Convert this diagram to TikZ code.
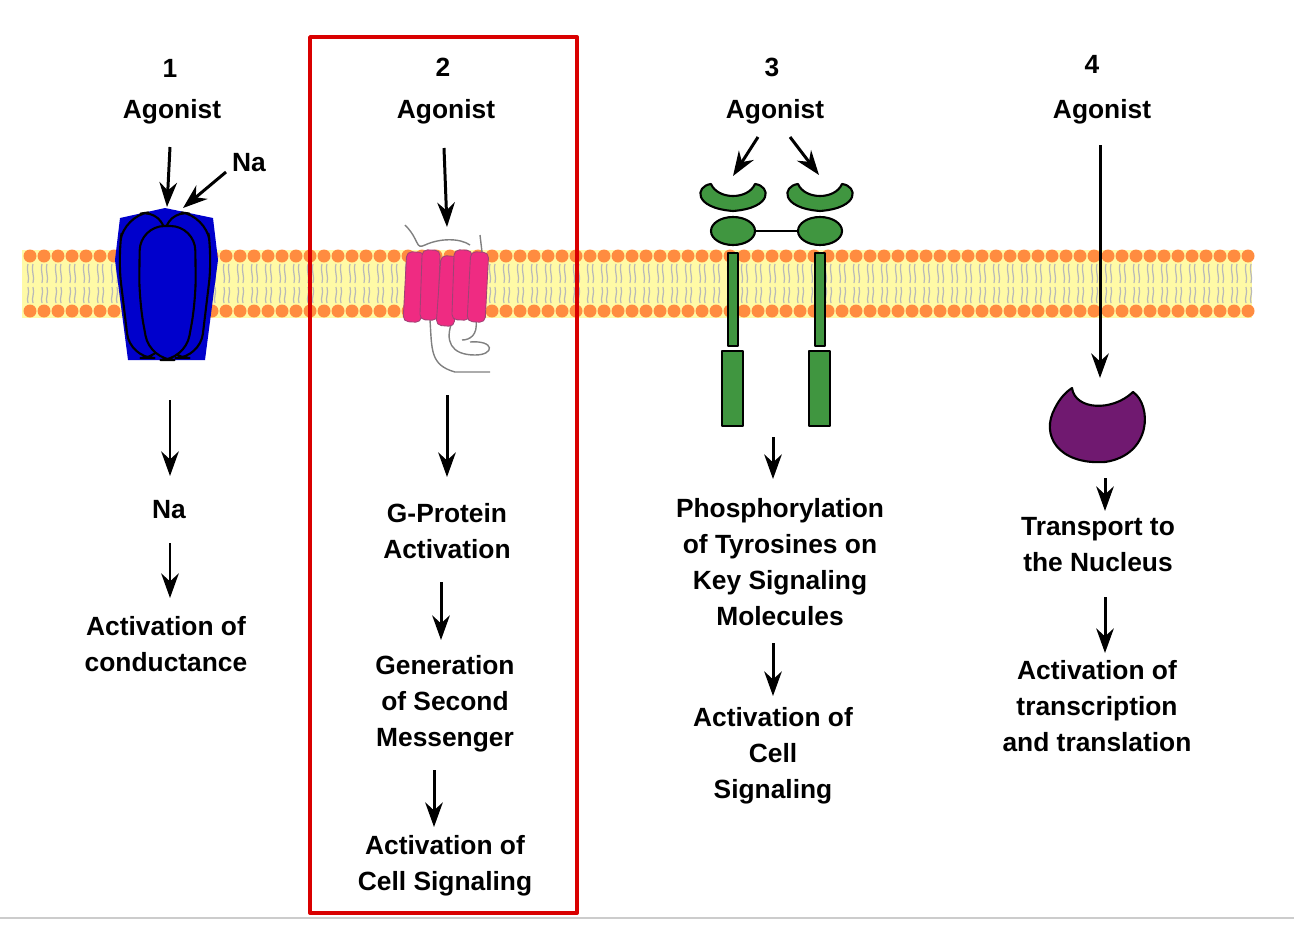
\documentclass[tikz,border=0pt]{standalone}
\usepackage{fontspec}
\setmainfont{Liberation Sans}
\usetikzlibrary{arrows.meta}

\begin{document}
\begin{tikzpicture}[x=0.02cm, y=-0.02cm, line join=round,
    lbl/.style={font=\bfseries\fontsize{15}{20.5}\selectfont, align=center, inner sep=0pt},
    sig/.style={-{Stealth[length=14pt, width=10pt]}, line width=1.7pt},
    outl/.style={draw=black, line width=1.2pt}]
    \useasboundingbox (0,0) rectangle (1294,930);
    \draw[gray!40, line width=1pt] (0,918) -- (1294,918);

    % Membrane
    \fill[yellow!35] (22,250) rectangle (1252,318);
    \foreach \x in {30,44,...,1250} {
        \draw[gray!55, line width=0.7pt] (\x-2,264) .. controls (\x-4,272) and (\x,276) .. (\x-2,283)
            (\x+3,264) .. controls (\x+1,272) and (\x+5,276) .. (\x+3,283)
            (\x-2,287) .. controls (\x,294) and (\x-4,298) .. (\x-2,303)
            (\x+3,287) .. controls (\x+5,294) and (\x+1,298) .. (\x+3,303);
        \fill[orange!80!red!75] (\x,256) circle (6.5) (\x,311) circle (6.5);
    }

    % Highlight box
    \draw[red!85!black, line width=2.2pt] (310,37) rectangle (577,913);

    % Branch 1: ion channel
    \node[lbl] (n1) at (170,68) {1};
    \node[lbl] (ag1) at (172,112) {Agonist};
    \node[lbl] (na1) at (249,163) {Na};
    \fill[blue!80!black] (115,260) -- (120,218) -- (165,208) -- (213,218) -- (218,260) -- (205,360) -- (128,360) -- cycle;
    \draw[outl, fill=blue!80!black, rounded corners=14pt] (118,258) -- (124,216) -- (165,210) -- (165,358) -- (130,358) -- cycle;
    \draw[outl, fill=blue!80!black, rounded corners=14pt] (212,258) -- (206,216) -- (165,210) -- (165,358) -- (200,358) -- cycle;
    \draw[outl, fill=blue!80!black, rounded corners=14pt] (140,226) -- (195,226) -- (196,300) -- (185,360) -- (150,360) -- (139,300) -- cycle;
    \coordinate (ch1top) at (167,207);
    \coordinate (ch1nb) at (183,208);
    \node[lbl] (na2) at (169,510) {Na};
    \node[lbl] (cond) at (166,644) {Activation of\\conductance};
    \path[sig]
    (170,147) edge (ch1top)
    (226,172) edge (ch1nb)
    (170,400) edge (170,476)
    (170,543) edge (170,598);

    % Branch 2: G-protein coupled receptor
    \node[lbl] (n2) at (443,67) {2};
    \node[lbl] (ag2) at (446,112) {Agonist};
    \draw[gray, line width=0.8pt] (405,225) .. controls (420,240) and (415,250) .. (425,245)
        .. controls (440,238) and (460,238) .. (470,245)
        (480,235) -- (482,252)
        (430,320) .. controls (432,350) and (430,365) .. (455,372) -- (490,372)
        (452,322) .. controls (445,340) and (450,355) .. (475,355) .. controls (495,355) and (495,340) .. (470,342)
        (476,320) .. controls (478,335) and (470,340) .. (462,340);
    \foreach \x/\t/\y in {414/-3/252, 430/-2/250, 448/-4/256, 462/-2/250, 478/-3/252} {
        \draw[outl, draw=magenta!60!black, line width=0.5pt, fill=magenta!75!red!85, rounded corners=3pt, rotate around={\t:(\x,285)}]
            (\x-9,\y) rectangle (\x+9,\y+70);
    }
    \coordinate (gpcr) at (447,227);
    \node[lbl] (gprot) at (447,531) {G-Protein\\Activation};
    \node[lbl] (second) at (445,704) {Generation\\of Second\\Messenger};
    \node[lbl] (cell2) at (445,866) {Activation of\\Cell Signaling};
    \path[sig]
    (444,148) edge (gpcr)
    (447,395) edge (447,477)
    (441,582) edge (441,640)
    (434,770) edge (434,827);

    % Branch 3: receptor tyrosine kinase
    \node[lbl] (n3) at (772,67) {3};
    \node[lbl] (ag3) at (775,112) {Agonist};
    \draw[line width=1pt] (752,231) -- (800,231);
    \foreach \cx in {733,820} {
        \draw[outl, fill=green!45!black!75] (\cx-22,184) .. controls (\cx-15,200) and (\cx+15,200) .. (\cx+22,184)
            .. controls (\cx+38,186) and (\cx+40,208) .. (\cx,211) .. controls (\cx-40,208) and (\cx-38,186) .. cycle;
        \draw[outl, fill=green!45!black!75] (\cx,231) ellipse (22 and 14);
        \draw[outl, line width=0.8pt, fill=green!45!black!75] (\cx-5,253) rectangle (\cx+5,346);
        \draw[outl, line width=0.8pt, fill=green!45!black!75] (\cx-11,351) rectangle (\cx+10,426);
    }
    \coordinate (rtkl) at (733,176);
    \coordinate (rtkr) at (819,175);
    \node[lbl] (phos) at (780,562) {Phosphorylation\\of Tyrosines on\\Key Signaling\\Molecules};
    \node[lbl] (cell3) at (773,756) {Activation of\\Cell\\Signaling};
    \path[sig]
    (758,137) edge (rtkl)
    (790,137) edge (rtkr)
    (773,437) edge (773,479)
    (773,643) edge (773,696);

    % Branch 4: nuclear receptor
    \node[lbl] (n4) at (1092,64) {4};
    \node[lbl] (ag4) at (1102,112) {Agonist};
    \draw[outl, fill=violet!75!black!90] (1072,388) .. controls (1075,410) and (1112,412) .. (1133,392)
        .. controls (1152,405) and (1152,455) .. (1105,462) .. controls (1058,465) and (1040,435) .. (1055,408)
        .. controls (1060,398) and (1066,392) .. cycle;
    \coordinate (nucr) at (1100,378);
    \node[lbl] (trans) at (1098,545) {Transport to\\the Nucleus};
    \node[lbl] (transc) at (1097,706) {Activation of\\transcription\\and translation};
    \path[sig]
    (1100,145) edge (nucr)
    (1105,478) edge (1105,511)
    (1105,597) edge (1105,653);
\end{tikzpicture}
\end{document}
